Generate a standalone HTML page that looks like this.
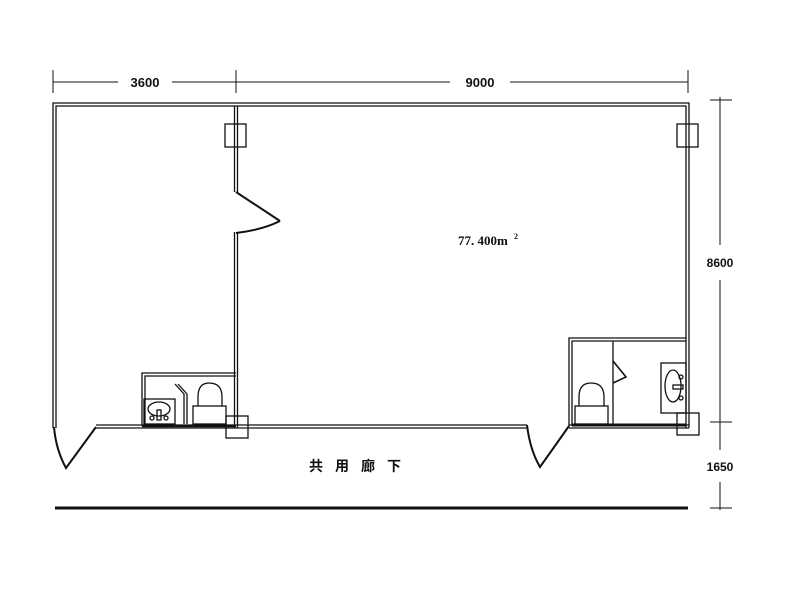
<!DOCTYPE html>
<html><head><meta charset="utf-8"><style>
html,body{margin:0;padding:0;background:#fff;}
svg{display:block}
text{font-family:"Liberation Sans","Noto Sans CJK JP",sans-serif;fill:#111}
</style></head><body>
<svg width="800" height="596" viewBox="0 0 800 596" xmlns="http://www.w3.org/2000/svg">
<g stroke="#111" fill="none" stroke-width="1">
<line x1="53" y1="70" x2="53" y2="93"/>
<line x1="236" y1="70" x2="236" y2="93"/>
<line x1="688" y1="70" x2="688" y2="93"/>
<line x1="53" y1="82" x2="118" y2="82"/>
<line x1="172" y1="82" x2="450" y2="82"/>
<line x1="510" y1="82" x2="688" y2="82"/>
<line x1="720" y1="97" x2="720" y2="245"/>
<line x1="720" y1="280" x2="720" y2="450"/>
<line x1="720" y1="482" x2="720" y2="510"/>
<line x1="710" y1="100" x2="732" y2="100"/>
<line x1="710" y1="422" x2="732" y2="422"/>
<line x1="710" y1="508" x2="732" y2="508"/>
</g>
<g stroke="#111" fill="none" stroke-width="1.3">
<path d="M53,428 V103 H689 V428"/>
<path d="M56,428 V106 H686 V428"/>
<path d="M234.5,106 V192 M237.5,106 V192"/>
<path d="M234.5,232 V428 M237.5,232 V428"/>
<path d="M96,425 H527 M96,428 H527"/>
<path d="M569,425 H689 M569,428 H689"/>
<rect x="225" y="124" width="21" height="23"/>
<rect x="677" y="124" width="21" height="23"/>
<rect x="226" y="416" width="22" height="22"/>
<rect x="677" y="413" width="22" height="22"/>
</g>
<g stroke="#111" fill="none" stroke-width="2">
<path d="M236,192 L280,221"/>
<path d="M280,221 Q262,230 236,233"/>
<path d="M54,427 Q56,450 66,468 L96,427"/>
<path d="M527,425 Q530,450 540,467 L569,426"/>
</g>
<line x1="55" y1="508" x2="688" y2="508" stroke="#111" stroke-width="3"/>
<g stroke="#111" fill="none" stroke-width="1.3">
<path d="M142,426 V373 H236 M145,426 V376 H236"/>
<rect x="144" y="399" width="31" height="25"/>
<ellipse cx="159" cy="409" rx="11" ry="7"/>
<circle cx="152" cy="418" r="2"/><circle cx="166" cy="418" r="2"/>
<rect x="157" y="410" width="4" height="10"/>
<path d="M175,384 L184,394 V424 M178,384 L187,394 V424"/>
<rect x="193" y="406" width="33" height="18"/>
<path d="M198,406 V397 Q198,383 209,383 Q222,383 222,397 V406"/>
<line x1="142" y1="426" x2="236" y2="426" stroke-width="2.5"/>
</g>
<g stroke="#111" fill="none" stroke-width="1.3">
<path d="M569,426 V338 H686 M572,426 V341 H686"/>
<path d="M613,341 V424"/>
<path d="M613,361 L626,377 L613,383" stroke-width="1.6"/>
<rect x="661" y="363" width="25" height="50"/>
<ellipse cx="673" cy="386" rx="8" ry="16"/>
<circle cx="681" cy="377" r="2"/><circle cx="681" cy="398" r="2"/>
<rect x="673" y="385" width="10" height="4"/>
<rect x="575" y="406" width="33" height="18"/>
<path d="M579,406 V397 Q579,383 591,383 Q604,383 604,397 V406"/>
<line x1="572" y1="425" x2="686" y2="425" stroke-width="3"/>
</g>
<text x="145" y="87" font-size="13" font-weight="bold" text-anchor="middle">3600</text>
<text x="480" y="87" font-size="13" font-weight="bold" text-anchor="middle">9000</text>
<text x="720" y="267" font-size="12" font-weight="bold" text-anchor="middle">8600</text>
<text x="720" y="471" font-size="12" font-weight="bold" text-anchor="middle">1650</text>
<text x="458" y="245" style="font-family:'Liberation Serif',serif;font-size:13px;font-weight:bold">77. 400m</text>
<text x="514" y="239" style="font-family:'Liberation Serif',serif;font-size:8px;font-weight:bold">2</text>
<text x="361" y="471" font-size="14" font-weight="bold" text-anchor="middle" letter-spacing="12" style="font-family:'Noto Sans CJK JP',sans-serif">共用廊下</text>
</svg>
</body></html>
